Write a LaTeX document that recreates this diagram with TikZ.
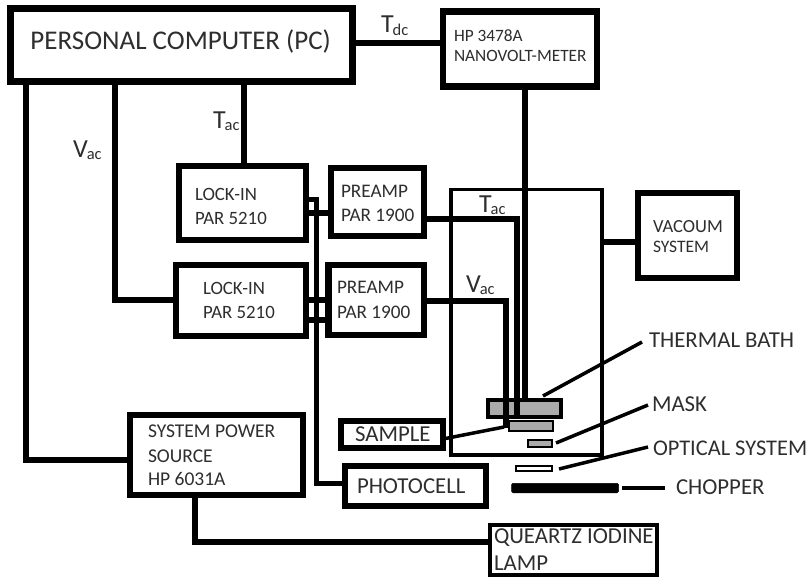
\documentclass[tikz,border=0pt]{standalone}
\usepackage{fontspec}
\setmainfont{Carlito}
\newcommand{\sz}[1]{\fontsize{#1}{#1}\selectfont}
\newcommand{\subl}[2]{\sz{26}#1\kern-1pt\raisebox{-2.5pt}{\sz{16.5}#2}}
\tikzset{
  bx/.style={draw=black,fill=white,line width=6.3pt,inner sep=0pt,outer sep=0pt},
  thinbx/.style={draw=black,line width=3.5pt,inner sep=0pt,outer sep=0pt},
  part/.style={draw=black,fill=black!33,inner sep=0pt,outer sep=0pt},
  wire/.style={draw=black,line width=6pt},
  lead/.style={draw=black,line width=3.5pt},
  txt/.style={anchor=base west,inner sep=0pt,outer sep=0pt,text=black!82},
}
\begin{document}
\begin{tikzpicture}[x=1pt,y=-1pt]
\useasboundingbox (0,0) rectangle (808,578);
% cell first
\node[thinbx,minimum width=151pt,minimum height=265.5pt] (cell) at (526.5,322.3) {};
% boxes
\node[bx,minimum width=342pt,minimum height=73pt] (pc) at (181.5,45) {};
\node[bx,minimum width=154pt,minimum height=75pt] (hp) at (520,49) {};
\node[bx,minimum width=127pt,minimum height=74pt] (li1) at (242.5,203) {};
\node[bx,minimum width=93pt,minimum height=68pt] (pa1) at (377.5,202) {};
\node[bx,minimum width=130pt,minimum height=71pt] (li2) at (241,300.5) {};
\node[bx,minimum width=95.5pt,minimum height=70pt] (pa2) at (376.2,300) {};
\node[bx,minimum width=99pt,minimum height=85pt] (vac) at (687.5,235.5) {};
\node[bx,minimum width=173pt,minimum height=80pt] (psu) at (216.5,455) {};
\node[bx,minimum width=102pt,minimum height=27pt] (smp) at (392,434.5) {};
\node[bx,minimum width=141pt,minimum height=40pt] (pho) at (415.5,486) {};
\node[bx,line width=4pt,minimum width=167pt,minimum height=50pt] (lamp) at (573.5,550) {};
% sample-stage parts
\node[part,line width=4.5pt,minimum width=73pt,minimum height=17pt] (bath) at (524.5,408.5) {};
\node[part,line width=2.5pt,minimum width=44pt,minimum height=10pt] (spl) at (531,426) {};
\node[part,line width=2.3pt,minimum width=24pt,minimum height=7pt] (msk) at (540,443.5) {};
\node[part,fill=white,line width=2.2pt,minimum width=36pt,minimum height=5pt] (opt) at (534,468.5) {};
\node[draw=black,fill=black,rounded corners=1.5pt,line width=0.5pt,inner sep=0pt,outer sep=0pt,minimum width=107pt,minimum height=9.5pt] (chp) at (565,488) {};
% connectors
\draw[wire] (pc.east |- 0,43.5) -- (hp.west |- 0,43.5);
\draw[wire] (pc.south -| 26,0) -- (26,460) -- (psu.west |- 0,460);
\draw[wire] (pc.south -| 115,0) -- (115,300) -- (li2.west |- 0,300);
\draw[wire] (pc.south -| 244,0) -- (li1.north -| 244,0);
\draw[wire] (hp.south -| 525.3,0) -- (bath.north -| 525.3,0);
\draw[wire,line width=5pt] (li1.east |- 0,199) -- (316.5,199) -- (316.5,483.5) -- (pho.west |- 0,483.5);
\draw[wire] (li1.east |- 0,213) -- (pa1.west |- 0,213);
\draw[wire] (li2.east |- 0,300) -- (pa2.west |- 0,300);
\draw[wire] (li2.east |- 0,320) -- (pa2.west |- 0,320);
\draw[wire] (pa1.east |- 0,218.5) -- (516.7,218.5) -- (516.7,417);
\draw[wire] (pa2.east |- 0,300.5) -- (506,300.5) -- (506,428);
\draw[wire] (cell.east |- 0,241.5) -- (vac.west |- 0,241.5);
\draw[wire] (psu.south -| 194.5,0) -- (194.5,542) -- (lamp.west |- 0,542);
% leaders
\coordinate (lbath) at (642,342);
\coordinate (lmask) at (648,405);
\coordinate (lopt) at (648,447);
\coordinate (lchp) at (665,488);
\draw[lead] (543,396) -- (lbath);
\draw[lead] (556,443) -- (lmask);
\draw[lead] (559,469) -- (lopt);
\draw[lead] (smp.east |- 0,439) -- (504,427);
\draw[lead] (622,488) -- (lchp);
% texts
\node[txt] (t1) at (30.5,50) {\sz{27}PERSONAL COMPUTER (PC)};
\node[txt] (t2a) at (454,42) {\sz{17.3}HP 3478A};
\node[txt] (t2b) at (454,62) {\sz{17.3}NANOVOLT-METER};
\node[txt] (t3a) at (195,200) {\sz{18.8}LOCK-IN};
\node[txt] (t3b) at (195,224) {\sz{18.8}PAR 5210};
\node[txt] (t4a) at (341,197) {\sz{19.2}PREAMP};
\node[txt] (t4b) at (341,221) {\sz{19.2}PAR 1900};
\node[txt] (t5a) at (203,294) {\sz{18.8}LOCK-IN};
\node[txt] (t5b) at (203,318) {\sz{18.8}PAR 5210};
\node[txt] (t6a) at (337,293) {\sz{19.2}PREAMP};
\node[txt] (t6b) at (337,318) {\sz{19.2}PAR 1900};
\node[txt] (t7a) at (653,232) {\sz{18.5}VACOUM};
\node[txt] (t7b) at (653,252) {\sz{17.5}SYSTEM};
\node[txt] (t8a) at (148,437) {\sz{19.5}SYSTEM POWER};
\node[txt] (t8b) at (148,462) {\sz{19.5}SOURCE};
\node[txt] (t8c) at (148,485) {\sz{19.5}HP 6031A};
\node[txt] (t9) at (355,441) {\sz{22.8}SAMPLE};
\node[txt] (t10) at (357,493) {\sz{22.8}PHOTOCELL};
\node[txt] (t11a) at (494,543) {\sz{22.8}QUEARTZ IODINE};
\node[txt] (t11b) at (494,570) {\sz{22.8}LAMP};
\node[txt] (t12) at (649,347) {\sz{22.8}THERMAL BATH};
\node[txt] (t13) at (652,411) {\sz{22.8}MASK};
\node[txt] (t14) at (653,455) {\sz{22.4}OPTICAL SYSTEM};
\node[txt] (t15) at (676,494) {\sz{22.8}CHOPPER};
\node[txt] (t16) at (381,33) {\subl{T}{dc}};
\node[txt] (t17) at (213,128) {\subl{T}{ac}};
\node[txt] (t18) at (73,157) {\subl{V}{ac}};
\node[txt] (t19) at (479,212) {\subl{T}{ac}};
\node[txt] (t20) at (466,292) {\subl{V}{ac}};
\end{tikzpicture}
\end{document}
